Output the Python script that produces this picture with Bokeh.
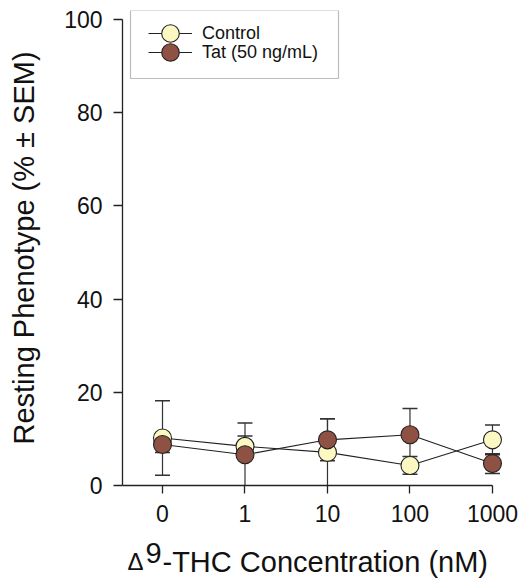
from bokeh.plotting import figure
from bokeh.layouts import column
from bokeh.models import (Range1d, FixedTicker, ColumnDataSource, Whisker, TeeHead,
                          Legend, LegendItem, Label, BoxAnnotation)
from bokeh.embed import file_html
from bokeh.resources import INLINE

# ---- data ----
conc_labels = ["0", "1", "10", "100", "1000"]
control_mean = [10.2, 8.4, 7.1, 4.3, 9.8]
control_sem = [8.0, 2.2, 7.2, 1.9, 3.2]
tat_mean = [8.8, 6.6, 9.8, 10.9, 4.7]
tat_sem = [1.7, 6.8, 4.5, 5.6, 2.1]
y_ticks = [0, 20, 40, 60, 80, 100]

FONT = "Liberation Sans"
TEXT = "#111111"
AXC = "#222222"
CONTROL_FILL = "#FCF8C2"
TAT_FILL = "#8E5143"

xpos = list(range(len(conc_labels)))

def make_source(mean, sem):
    return ColumnDataSource(dict(
        x=xpos, y=mean,
        lower=[m - s for m, s in zip(mean, sem)],
        upper=[m + s for m, s in zip(mean, sem)],
    ))

src_c = make_source(control_mean, control_sem)
src_t = make_source(tat_mean, tat_sem)

fig = figure(width=525, height=531,
             x_range=Range1d(-0.485, 4.158), y_range=Range1d(0, 101.93),
             output_backend="svg", toolbar_location=None,
             min_border_left=122, min_border_right=20,
             min_border_top=10, min_border_bottom=46)
fig.xgrid.visible = False
fig.ygrid.visible = False
fig.outline_line_color = None

# axes
fig.xaxis.ticker = FixedTicker(ticks=xpos)
fig.xaxis.major_label_overrides = {i: lab for i, lab in zip(xpos, conc_labels)}
fig.xaxis.bounds = (-0.485, xpos[-1])
fig.yaxis.ticker = FixedTicker(ticks=y_ticks)
fig.yaxis.bounds = (y_ticks[0], y_ticks[-1])
for ax in (fig.xaxis, fig.yaxis):
    ax.axis_line_color = AXC
    ax.axis_line_width = 1.3
    ax.major_tick_line_color = AXC
    ax.major_tick_line_width = 1.3
    ax.major_tick_in = 0
    ax.minor_tick_line_color = None
    ax.major_label_text_font = FONT
    ax.major_label_text_font_size = "23px"
    ax.major_label_text_color = TEXT
fig.xaxis.major_tick_out = 8
fig.yaxis.major_tick_out = 9
fig.xaxis.major_label_standoff = 11
fig.yaxis.major_label_standoff = 11
fig.xaxis.axis_label = None
fig.yaxis.axis_label = "Resting Phenotype (% \u00b1 SEM)"
fig.yaxis.axis_label_text_font = FONT
fig.yaxis.axis_label_text_font_size = "29px"
fig.yaxis.axis_label_text_font_style = "normal"
fig.yaxis.axis_label_text_color = TEXT
fig.yaxis.axis_label_standoff = 21

# error bars
for src in (src_c, src_t):
    w = Whisker(base="x", upper="upper", lower="lower", source=src,
                line_color="#333333", line_width=1.2, level="underlay",
                upper_head=TeeHead(size=15, line_color="#333333", line_width=1.5),
                lower_head=TeeHead(size=15, line_color="#333333", line_width=1.5))
    fig.add_layout(w)

# series
lc = fig.line("x", "y", source=src_c, line_color=AXC, line_width=1.1)
sc = fig.scatter("x", "y", source=src_c, size=18, fill_color=CONTROL_FILL,
                 line_color=AXC, line_width=1.1)
lt = fig.line("x", "y", source=src_t, line_color=AXC, line_width=1.1)
st = fig.scatter("x", "y", source=src_t, size=18, fill_color=TAT_FILL,
                 line_color=AXC, line_width=1.1)

# legend frame
box = BoxAnnotation(left=8, right=216, top=475, bottom=407,
                    left_units="screen", right_units="screen",
                    top_units="screen", bottom_units="screen",
                    fill_color="white", fill_alpha=1.0,
                    line_color=AXC, line_width=1.2, level="annotation")
fig.add_layout(box)

leg_kw = dict(padding=0, spacing=0, glyph_width=44, glyph_height=44,
              label_standoff=10, label_text_font=FONT,
              label_text_font_size="18px", label_text_color=TEXT,
              background_fill_alpha=0, border_line_alpha=0)
fig.add_layout(Legend(items=[LegendItem(label="Control", renderers=[lc, sc])],
                      location=(26, 430), **leg_kw))
fig.add_layout(Legend(items=[LegendItem(label="Tat (50 ng/mL)", renderers=[lt, st])],
                      location=(26, 411), **leg_kw))

# x-axis title (Delta, superscript 9) in a strip below the chart
title_fig = figure(width=525, height=53, output_backend="svg", toolbar_location=None,
                   x_axis_type=None, y_axis_type=None,
                   min_border=0, min_border_left=0, min_border_right=0,
                   min_border_top=0, min_border_bottom=0)
title_fig.grid.visible = False
title_fig.outline_line_color = None
lab_kw = dict(x_units="screen", y_units="screen", text_font=FONT,
              text_color=TEXT, text_baseline="alphabetic")
title_fig.add_layout(Label(x=5, y=23, text="\u0394", text_font_size="24px", **lab_kw))
title_fig.add_layout(Label(x=23, y=32, text="9", text_font_size="29px", **lab_kw))
title_fig.add_layout(Label(x=40, y=23, text="-THC Concentration (nM)",
                           text_font_size="29px", **lab_kw))

page = column(fig, title_fig, spacing=0)
open("out.html", "w").write(file_html(page, INLINE))
